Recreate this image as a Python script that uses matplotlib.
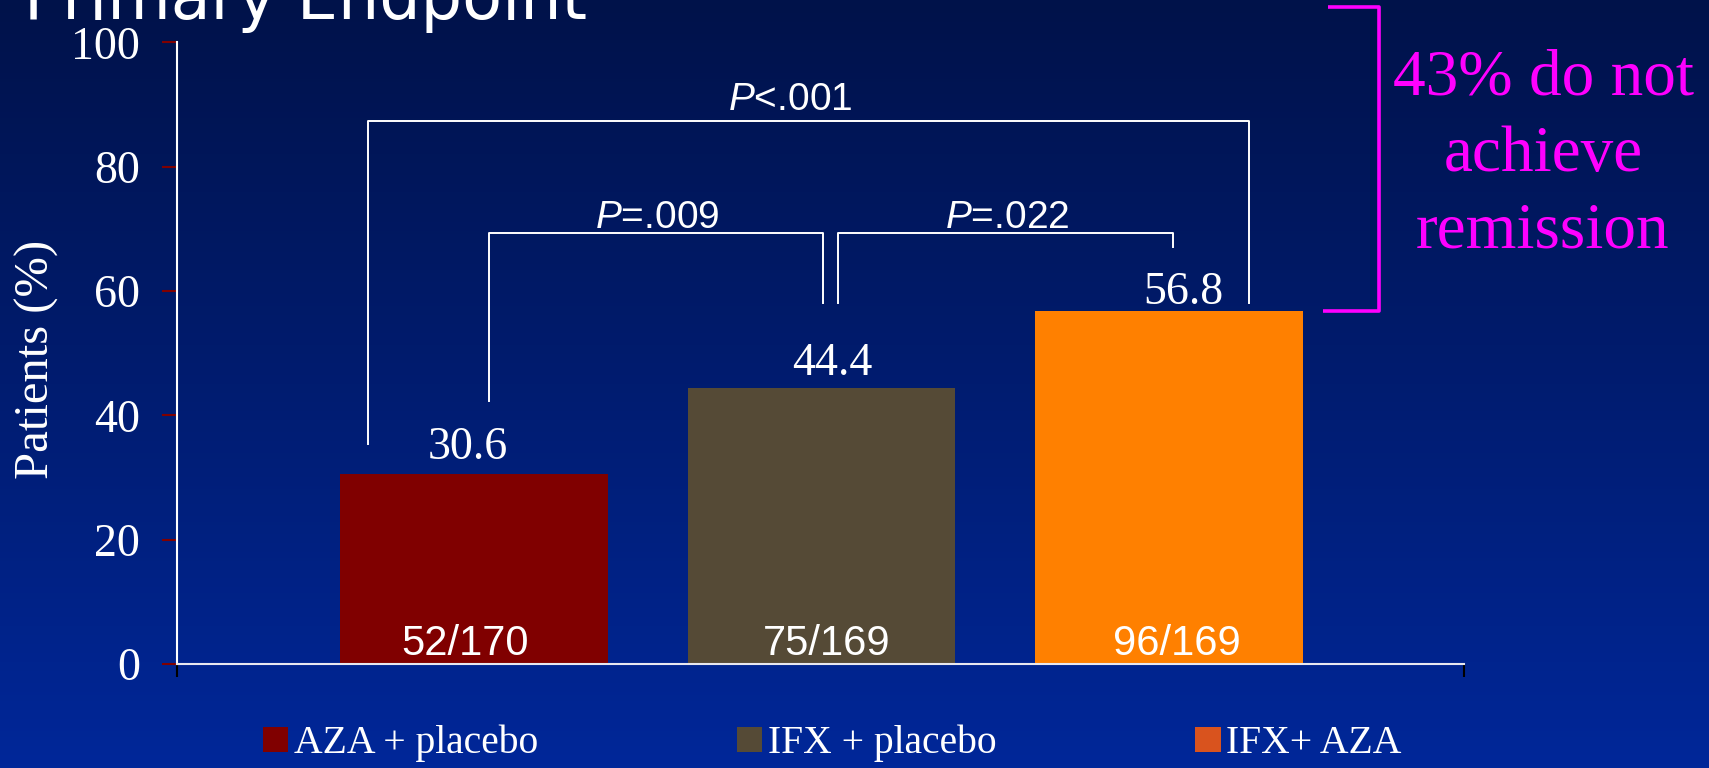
import numpy as np
import matplotlib.pyplot as plt
from matplotlib.colors import LinearSegmentedColormap
from matplotlib.patches import Patch

plt.rcParams['mathtext.fontset'] = 'custom'
plt.rcParams['mathtext.rm'] = 'Liberation Sans'
plt.rcParams['mathtext.it'] = 'Liberation Sans:italic'

# remission rates per arm
groups = ['AZA + placebo', 'IFX + placebo', 'IFX+ AZA']
remission = [30.6, 44.4, 56.8]
counts = ['52/170', '75/169', '96/169']
yticks = [0, 20, 40, 60, 80, 100]

bar_colors = ['#800000', '#554A36', '#FF8000']
legend_colors = ['#800000', '#554A36', '#D9531E']
value_pad = [2.4, 2.1, 1.1]
value_dx = [-0.017, 0.03, 0.04]
count_dx = [-0.026, 0.016, 0.023]

# pairwise comparisons: left x, right x, left foot, right foot, bar height, label, label x
p_labels = ['$P$<.001', '$P$=.009', '$P$=.022']
p_left = [-0.306, 0.043, 1.047]
p_right = [2.230, 1.004, 2.011]
p_foot_l = [35.4, 42.3, 58.1]
p_foot_r = [58.1, 58.1, 67.1]
p_top = [87.4, 69.4, 69.4]
p_text_x = [0.911, 0.526, 1.533]

# share of patients on combination therapy not in remission
no_remission_top = 105.7

serif = 'Liberation Serif'
sans = 'Liberation Sans'

fig = plt.figure(figsize=(17.09, 7.68), dpi=100)

# slide background: dark navy fading to blue
bg = fig.add_axes([0, 0, 1, 1], zorder=-10)
grad = np.linspace(0, 1, 256).reshape(-1, 1)
cmap = LinearSegmentedColormap.from_list('slide', ['#00124A', '#001C70', '#002799'])
bg.imshow(grad, aspect='auto', cmap=cmap, extent=[0, 1, 0, 1], origin='upper')
bg.axis('off')

ax = fig.add_axes([0.1036, 0.1354, 0.753, 0.8093])
ax.set_facecolor('none')

x = np.arange(len(groups))
ax.bar(x, remission, width=0.77, color=bar_colors, zorder=2)

for i, v in enumerate(remission):
    ax.text(x[i] + value_dx[i], v + value_pad[i], f'{v:.1f}', ha='center', va='baseline',
            fontsize=33, family=serif, color='white')
    ax.text(x[i] + count_dx[i], 1.5, counts[i], ha='center', va='baseline',
            fontsize=30, family=sans, color='white', zorder=3)

for i in range(len(p_labels)):
    ax.plot([p_left[i], p_left[i], p_right[i], p_right[i]],
            [p_foot_l[i], p_top[i], p_top[i], p_foot_r[i]],
            color='white', lw=1.4, clip_on=False)
    gap = 1.7 if i == 0 else 0.8
    ax.text(p_text_x[i], p_top[i] + gap, p_labels[i], ha='center', va='baseline',
            fontsize=28, family=sans, color='white')

# magenta bracket over the non-remission share of the top bar
ax.plot([2.458, 2.604, 2.604, 2.443],
        [no_remission_top, no_remission_top, remission[2], remission[2]],
        color='#FF00FF', lw=2.6, clip_on=False, solid_capstyle='butt')
fig.text(0.9029, 1 - 248 / 768, f'{100 - remission[2]:.0f}% do not\nachieve\nremission',
         ha='center', va='baseline', fontsize=47, family=serif, color='#FF00FF',
         linespacing=1.38)

ax.set_xlim(-0.855, 2.849)
ax.set_ylim(0, 100)
ax.set_yticks(yticks)
ax.set_yticklabels([str(t) for t in yticks])
ax.tick_params(axis='y', direction='out', length=10.8, width=1.5, color='#800000',
               labelcolor='white', labelsize=33, pad=16)
for lab in ax.get_yticklabels():
    lab.set_family(serif)

ax.set_xticks([-0.855, 2.849])
ax.set_xticklabels(['', ''])
ax.tick_params(axis='x', direction='out', length=9, width=1.5)
xt = ax.xaxis.get_major_ticks()
xt[0].tick1line.set_color('#800000')
xt[1].tick1line.set_color('white')

for s in ['top', 'right']:
    ax.spines[s].set_visible(False)
ax.spines['left'].set_color('white')
ax.spines['bottom'].set_color('#E8E8F0')
ax.spines['left'].set_linewidth(1.5)
ax.spines['bottom'].set_linewidth(1.5)

ax.set_ylabel('Patients (%)', fontsize=35, family=serif, color='white')
ax.yaxis.label.set_va('center')
ax.yaxis.set_label_coords(-0.109, 0.49)

handles = [Patch(facecolor=c, edgecolor='none') for c in legend_colors]
leg = fig.legend(handles, groups, loc='center', bbox_to_anchor=(0.487, 0.032),
                 ncol=3, frameon=False, columnspacing=5.0, handlelength=0.65,
                 handleheight=0.6, handletextpad=0.15,
                 prop={'family': serif, 'size': 28.5})
for t in leg.get_texts():
    t.set_color('white')

fig.text(0.0143, 1 - 19 / 768, 'Primary Endpoint', ha='left', va='baseline',
         fontsize=47, family='DejaVu Sans', color='white')

fig.savefig('out.png', dpi=100)
